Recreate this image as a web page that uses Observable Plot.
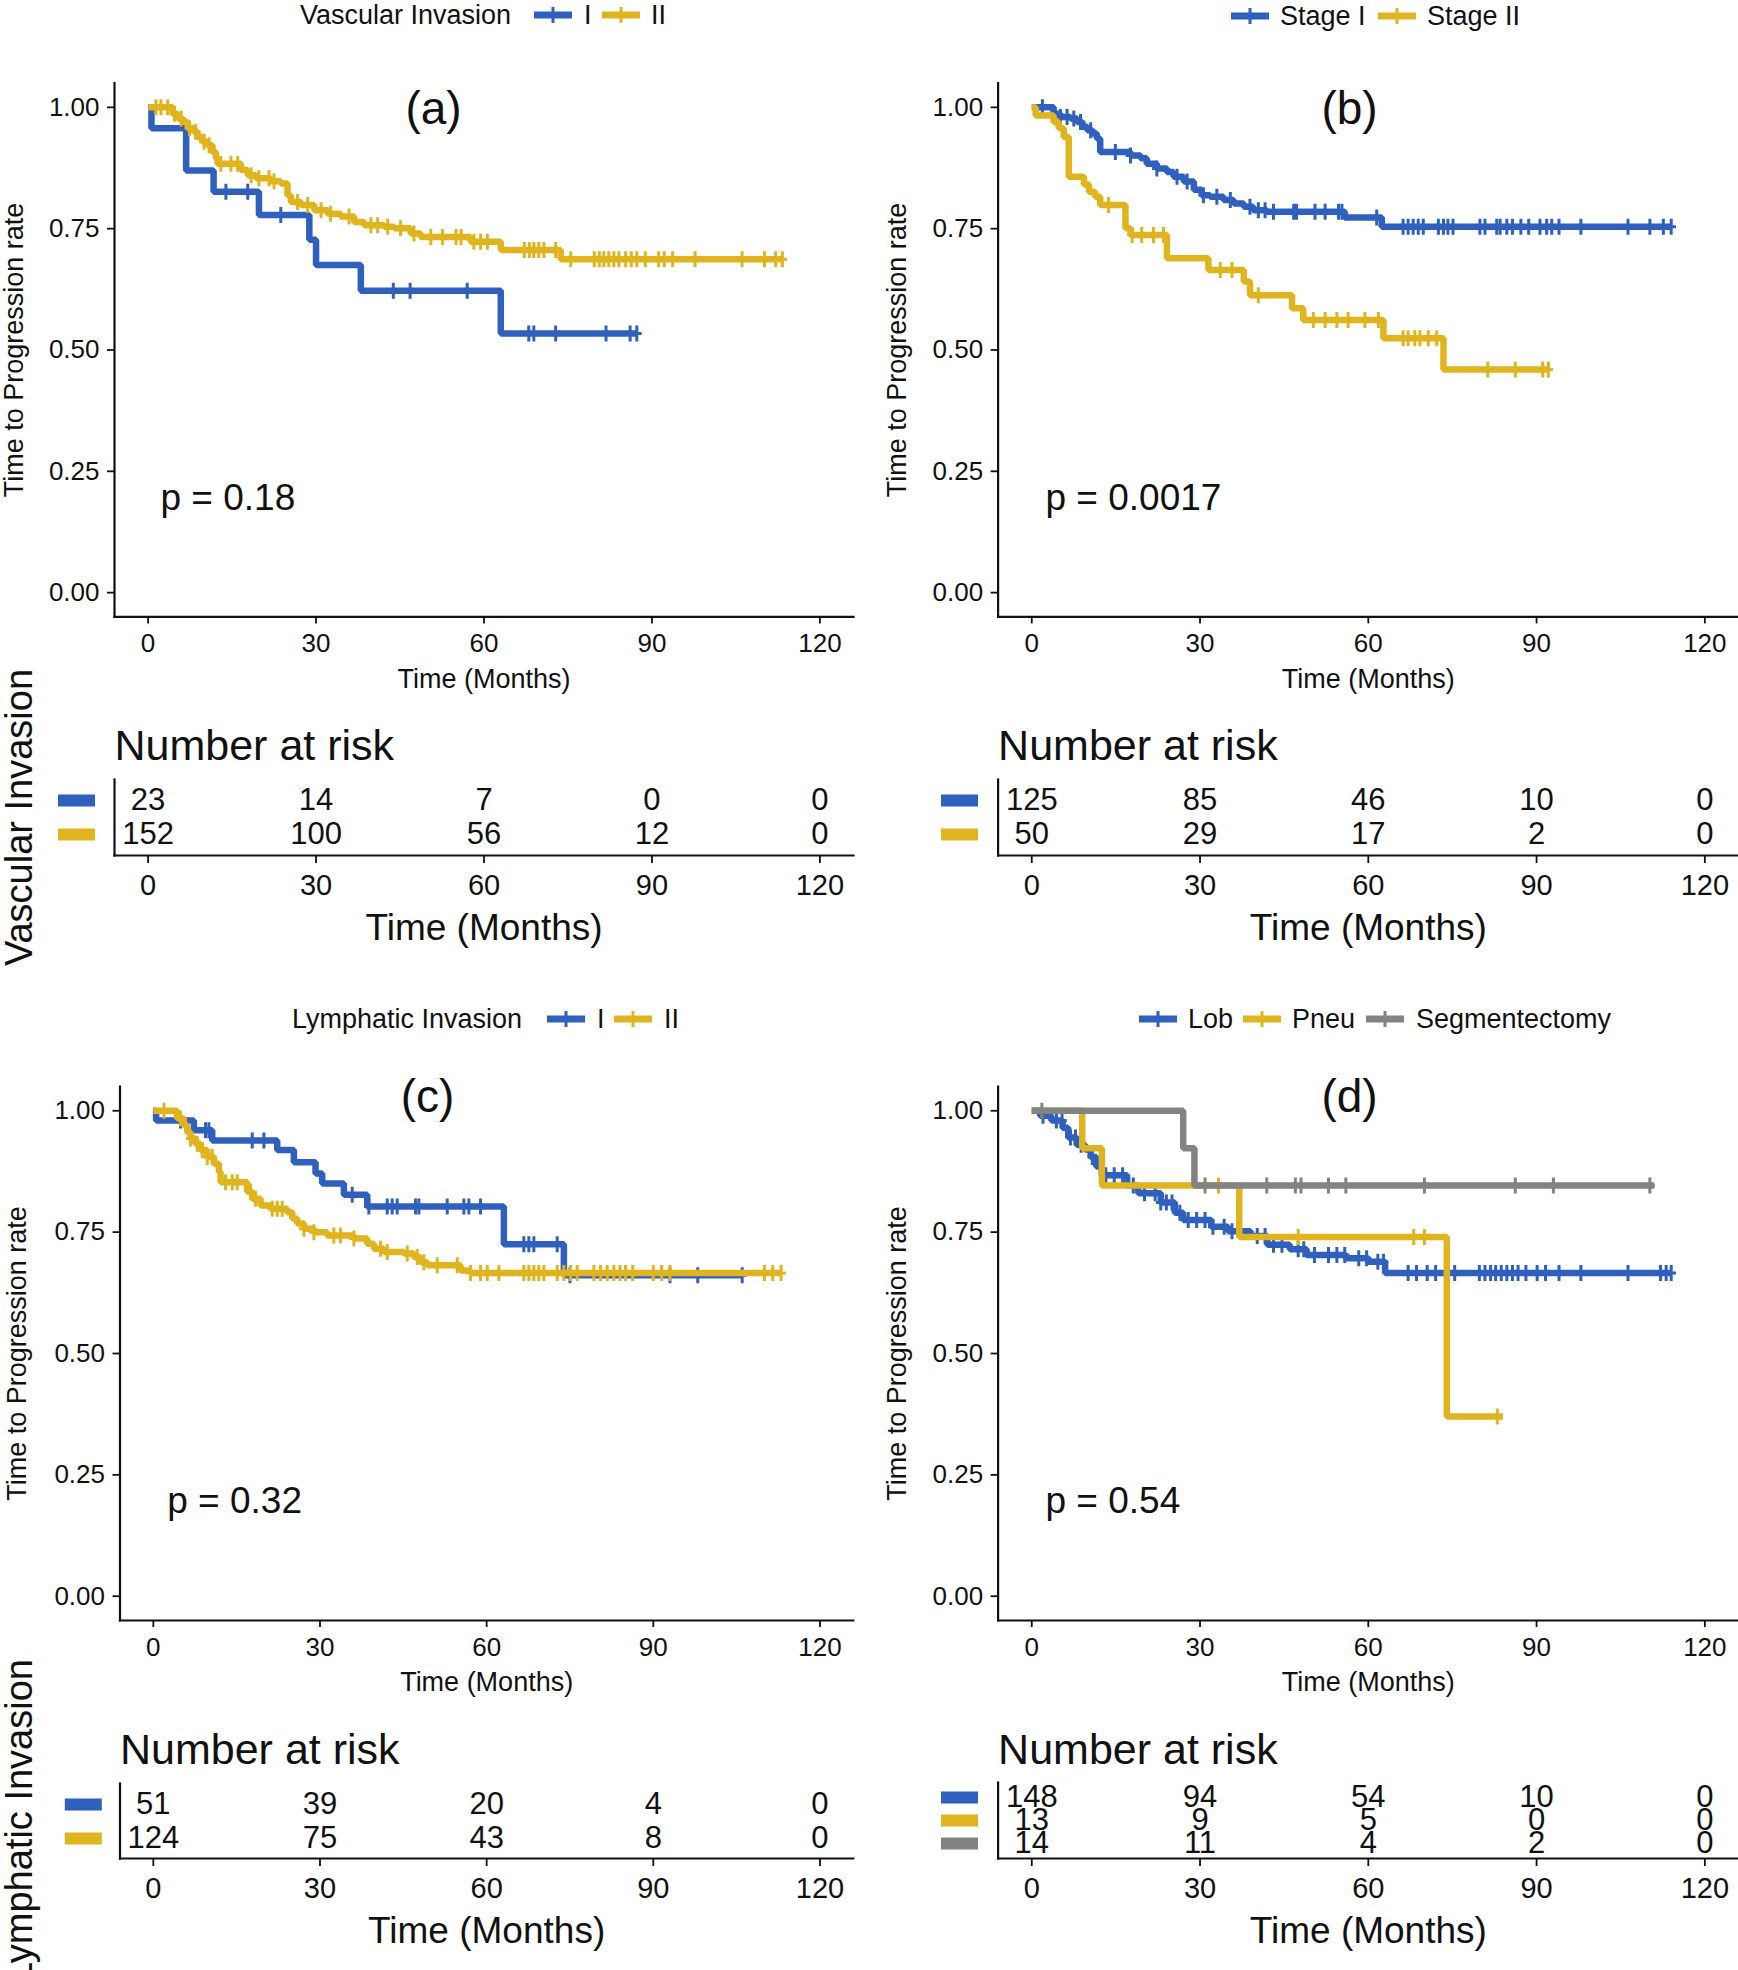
<!DOCTYPE html>
<html>
<head>
<meta charset="utf-8">
<script src="https://cdn.jsdelivr.net/npm/d3@7"></script>
<script src="https://cdn.jsdelivr.net/npm/@observablehq/plot@0.6"></script>
<style>
  html, body { margin: 0; padding: 0; background: #fff; }
  #root { position: relative; width: 1738px; height: 1970px; overflow: hidden; background: #fff;
          font-family: "Liberation Sans", Arial, Helvetica, sans-serif; color: #111; }
  #root svg { position: absolute; max-width: none; }
  .lg { position: absolute; font-size: 27px; line-height: 34px; white-space: nowrap; color: #111; }
</style>
</head>
<body>
<div id="root"></div>
<script>
// ---------------- DATA ----------------
const months = [0, 30, 60, 90, 120];
const survTicks = [0, 0.25, 0.5, 0.75, 1];

// (a) Vascular Invasion
const aTitle = "Vascular Invasion";
const aGroups = ["I", "II"];
const aPval = "p = 0.18";
const aI_time = [0, 0.6, 6.8, 11.7, 19.8, 28.8, 30.0, 38.0, 63.0, 87.3];
const aI_surv = [1, 0.957, 0.870, 0.826, 0.778, 0.727, 0.675, 0.622, 0.534, 0.534];
const aI_cens = [13.9, 17.8, 23.7, 43.8, 46.8, 57.0, 68.0, 68.9, 72.8, 81.8, 86.1, 87.3];
const aII_time = [0, 4.4, 5.3, 6.2, 7.1, 8.2, 8.8, 9.7, 10.6, 11.5, 12.1, 12.4, 16.6, 17.8, 19.3, 21.9, 23.7, 24.9, 25.5, 27.3, 29.7, 32.1, 34.4, 36.8, 38.6, 42.2, 44.0, 46.9, 48.7, 57.6, 63.0, 73.7, 113.3];
const aII_surv = [1, 0.987, 0.977, 0.970, 0.957, 0.950, 0.939, 0.929, 0.922, 0.908, 0.895, 0.884, 0.871, 0.860, 0.854, 0.848, 0.843, 0.819, 0.805, 0.799, 0.788, 0.781, 0.775, 0.764, 0.757, 0.754, 0.751, 0.740, 0.733, 0.723, 0.706, 0.687, 0.687];
const aII_cens = [1.4, 2.3, 3.5, 4.7, 5.9, 7.4, 8.5, 10.0, 10.9, 13.0, 14.8, 16.0, 18.4, 19.8, 21.6, 22.5, 26.7, 28.5, 30.9, 32.6, 35.9, 39.8, 41.0, 42.8, 45.1, 47.5, 50.5, 52.6, 55.0, 55.9, 58.2, 59.4, 60.6, 67.2, 68.1, 68.9, 69.8, 70.7, 72.8, 75.5, 79.7, 80.6, 81.4, 82.3, 83.2, 84.1, 85.3, 86.3, 87.3, 88.8, 91.2, 92.2, 93.7, 97.7, 106.1, 110.1, 112.1, 113.3];
const aRiskI = [23, 14, 7, 0, 0];
const aRiskII = [152, 100, 56, 12, 0];

// (b) Stage
const bGroups = ["Stage I", "Stage II"];
const bPval = "p = 0.0017";
const bI_time = [0, 3.9, 5.1, 6.9, 8.1, 9.0, 9.9, 10.8, 11.6, 12.2, 17.6, 19.4, 20.5, 22.3, 24.1, 25.3, 27.1, 28.9, 30.3, 31.8, 34.2, 36.0, 37.8, 39.5, 41.9, 55.8, 62.4, 114.0];
const bI_surv = [1, 0.987, 0.980, 0.977, 0.970, 0.960, 0.953, 0.946, 0.936, 0.908, 0.901, 0.895, 0.884, 0.874, 0.867, 0.857, 0.847, 0.830, 0.819, 0.816, 0.809, 0.802, 0.795, 0.788, 0.785, 0.773, 0.754, 0.754];
const bI_cens = [1.9, 5.1, 6.3, 7.5, 8.7, 10.5, 14.9, 17.6, 22.3, 25.9, 27.7, 30.6, 33.0, 35.4, 38.9, 40.4, 41.6, 43.1, 46.7, 47.2, 50.5, 52.3, 54.7, 55.3, 61.5, 66.2, 67.1, 68.0, 68.9, 69.8, 72.5, 73.4, 74.2, 75.1, 79.9, 80.8, 82.9, 83.5, 84.7, 85.7, 87.2, 88.6, 90.6, 91.8, 92.7, 94.0, 97.9, 106.3, 110.2, 112.6, 114.0];
const bII_time = [0, 0.7, 3.9, 4.8, 5.7, 6.6, 9.3, 10.2, 11.3, 12.2, 16.7, 17.6, 24.1, 31.5, 37.8, 38.9, 46.4, 48.4, 62.7, 73.4, 92.1];
const bII_surv = [1, 0.983, 0.970, 0.957, 0.939, 0.857, 0.841, 0.826, 0.816, 0.799, 0.751, 0.737, 0.689, 0.665, 0.641, 0.613, 0.586, 0.562, 0.524, 0.460, 0.460];
const bII_cens = [13.7, 17.9, 19.6, 21.7, 23.5, 33.6, 35.7, 40.4, 50.2, 52.3, 54.4, 56.4, 59.4, 61.8, 66.2, 67.1, 68.3, 69.2, 70.7, 72.2, 81.3, 86.2, 91.1, 92.1];
const bRiskI = [125, 85, 46, 10, 0];
const bRiskII = [50, 29, 17, 2, 0];

// (c) Lymphatic Invasion
const cTitle = "Lymphatic Invasion";
const cGroups = ["I", "II"];
const cPval = "p = 0.32";
const cI_time = [0, 0.5, 7.3, 10.6, 22.3, 25.3, 29.2, 30.4, 34.3, 38.5, 63.1, 73.9, 106.0];
const cI_surv = [1, 0.980, 0.960, 0.939, 0.919, 0.894, 0.871, 0.850, 0.827, 0.803, 0.725, 0.661, 0.661];
const cI_cens = [4.9, 9.4, 10.0, 17.8, 19.9, 35.8, 38.8, 42.1, 43.0, 43.9, 47.2, 47.8, 52.9, 55.9, 56.8, 58.9, 66.7, 67.6, 68.5, 72.7, 75.0, 93.0, 98.0, 106.0];
const cII_time = [0, 4.3, 5.5, 6.1, 6.7, 7.6, 8.5, 9.7, 10.9, 11.8, 12.1, 16.9, 17.8, 19.3, 21.1, 24.1, 25.0, 25.9, 27.1, 28.9, 31.3, 36.1, 38.5, 39.7, 41.5, 45.1, 46.9, 48.1, 49.3, 55.3, 57.1, 113.0];
const cII_surv = [1, 0.984, 0.970, 0.956, 0.943, 0.932, 0.919, 0.905, 0.891, 0.874, 0.853, 0.833, 0.819, 0.805, 0.798, 0.791, 0.778, 0.768, 0.757, 0.750, 0.743, 0.737, 0.726, 0.716, 0.709, 0.706, 0.699, 0.688, 0.682, 0.671, 0.666, 0.666];
const cII_cens = [1.9, 4.9, 6.7, 7.9, 8.8, 9.7, 10.6, 13.0, 14.2, 15.1, 17.5, 18.4, 21.4, 22.3, 23.2, 27.1, 28.9, 32.5, 33.7, 36.1, 40.9, 42.1, 45.7, 47.5, 48.7, 51.1, 54.7, 57.1, 58.9, 60.1, 62.2, 66.7, 67.6, 68.5, 69.4, 70.3, 72.7, 73.9, 75.1, 76.3, 79.3, 80.5, 81.7, 82.9, 84.0, 85.0, 86.3, 90.0, 91.5, 93.0, 110.0, 111.5, 113.0];
const cRiskI = [51, 39, 20, 4, 0];
const cRiskII = [124, 75, 43, 8, 0];

// (d) Surgery type
const dGroups = ["Lob", "Pneu", "Segmentectomy"];
const dPval = "p = 0.54";
const dLob_time = [0, 1.5, 3.5, 5.5, 6.5, 8.0, 9.5, 10.5, 11.5, 12.5, 17.0, 19.0, 23.0, 25.5, 27.0, 32.0, 35.0, 39.0, 42.0, 46.0, 49.0, 56.0, 60.0, 63.0, 114.0];
const dLob_surv = [1, 0.990, 0.980, 0.965, 0.945, 0.930, 0.920, 0.905, 0.885, 0.867, 0.846, 0.830, 0.811, 0.790, 0.775, 0.761, 0.752, 0.742, 0.724, 0.715, 0.703, 0.696, 0.689, 0.666, 0.666];
const dLob_cens = [2.0, 4.4, 5.4, 6.9, 7.8, 8.8, 10.8, 13.2, 14.7, 16.2, 18.1, 20.1, 22.0, 23.0, 24.0, 25.0, 26.4, 27.9, 29.4, 30.9, 32.3, 34.3, 35.7, 37.2, 40.2, 41.6, 43.1, 44.6, 47.5, 48.5, 50.4, 52.9, 54.4, 55.8, 58.3, 59.7, 61.7, 62.7, 67.1, 68.6, 70.5, 72.0, 73.9, 75.4, 79.8, 80.8, 81.8, 82.7, 83.7, 84.7, 85.7, 86.7, 88.1, 90.1, 91.6, 94.0, 97.9, 106.3, 112.1, 113.1, 114.0];
const dPneu_time = [0, 9.0, 12.5, 37.0, 74.0, 84.0];
const dPneu_surv = [1, 0.923, 0.846, 0.740, 0.370, 0.370];
const dPneu_cens = [33.3, 47.5, 68.1, 70.0, 83.0];
const dSeg_time = [0, 27.0, 29.0, 111.0];
const dSeg_surv = [1, 0.923, 0.846, 0.846];
const dSeg_cens = [1.8, 30.9, 41.9, 47.0, 48.0, 52.9, 56.0, 70.0, 86.2, 93.0, 110.2];
const dRiskLob = [148, 94, 54, 10, 0];
const dRiskPneu = [13, 9, 5, 0, 0];
const dRiskSeg = [14, 11, 4, 2, 0];

// ---------------- STYLE ----------------
const BLUE = "#3060BD", YELLOW = "#E0B41E", GRAY = "#838383";
const FONT = '"Liberation Sans", Arial, Helvetica, sans-serif';
const root = document.getElementById("root");

// ---------------- HELPERS ----------------
function stepAt(time, surv, t) {
  let v = surv[0];
  for (let i = 0; i < time.length; i++) { if (time[i] <= t) v = surv[i]; else break; }
  return v;
}
function makeSeries(time, surv, cens, color) {
  return {
    color,
    steps: time.map((t, i) => ({t, s: surv[i]})),
    cens: cens.map(t => ({t, s: stepAt(time, surv, t)}))
  };
}
const plusSymbol = {
  draw(ctx, size) {
    const r = Math.sqrt(size / Math.PI);
    ctx.moveTo(0, -r); ctx.lineTo(0, r);
    ctx.moveTo(-r * 0.6, 0); ctx.lineTo(r * 0.6, 0);
  }
};
const keySymbol = { draw(ctx) { ctx.rect(-18.5, -6, 37, 12); } };

function place(svg, box) {
  svg.style.left = box.l + "px";
  svg.style.top = box.t + "px";
  root.appendChild(svg);
}
function margins(box, fr) {
  return {
    marginLeft: fr.l - box.l, marginRight: box.l + box.w - fr.r,
    marginTop: fr.t - box.t, marginBottom: box.t + box.h - fr.b
  };
}
const svgStyle = {background: "transparent", overflow: "visible", fontFamily: FONT, color: "#111"};

function kmPlot(o) {
  const marks = [
    Plot.frame({anchor: "left", strokeWidth: 2.2}),
    Plot.frame({anchor: "bottom", strokeWidth: 2.2}),
    Plot.axisY({ticks: survTicks, tickFormat: d3.format(".2f"), tickSize: 7, tickPadding: 8, fontSize: 26, label: null, strokeWidth: 1.8}),
    Plot.axisX({ticks: months, tickSize: 7, tickPadding: 10, fontSize: 26, label: null, strokeWidth: 1.8}),
    Plot.text(["Time to Progression rate"], {frameAnchor: "left", dx: o.yTitleDx, rotate: -90, textAnchor: "middle", lineAnchor: "middle", fontSize: 27}),
    Plot.text(["Time (Months)"], {frameAnchor: "bottom", dy: 62, lineAnchor: "middle", fontSize: 27}),
    Plot.text([o.tag], {frameAnchor: "top-left", dx: o.tagDx, dy: o.tagDy, textAnchor: "middle", lineAnchor: "middle", fontSize: 46}),
    Plot.text([o.p], {frameAnchor: "bottom-left", dx: o.pDx, dy: o.pDy, textAnchor: "start", lineAnchor: "middle", fontSize: 37})
  ];
  for (const s of o.series) {
    marks.push(Plot.line(s.steps, {x: "t", y: "s", curve: "step-after", stroke: s.color, strokeWidth: 6.5, strokeLinejoin: "miter", strokeLinecap: "butt"}));
    marks.push(Plot.dot(s.cens, {x: "t", y: "s", symbol: plusSymbol, r: 8, stroke: s.color, strokeWidth: 3, fill: "none"}));
  }
  const svg = Plot.plot({
    width: o.box.w, height: o.box.h, ...margins(o.box, o.frame),
    x: {domain: [-6, 126]}, y: {domain: [-0.05, 1.05]},
    style: svgStyle, marks
  });
  place(svg, o.box);
}

function riskPlot(o) {
  const rows = o.groups.flatMap((g, gi) => months.map((m, i) => ({g, m, n: o.counts[gi][i]})));
  const marks = [
    Plot.frame({anchor: "left", strokeWidth: 2.2}),
    Plot.frame({anchor: "bottom", strokeWidth: 2.2}),
    Plot.axisX({ticks: months, tickSize: 8, tickPadding: 11, fontSize: 29, label: null, strokeWidth: 1.8}),
    Plot.text(rows, {x: "m", y: "g", text: d => String(d.n), fontSize: 31}),
    Plot.text(["Number at risk"], {frameAnchor: "top-left", dy: o.titleDy, textAnchor: "start", lineAnchor: "middle", fontSize: 43}),
    Plot.text(["Time (Months)"], {frameAnchor: "bottom", dy: 73, lineAnchor: "middle", fontSize: 37}),
    ...o.groups.map((g, i) => Plot.dot([g], {y: d => d, frameAnchor: "left", dx: o.keyDx, symbol: keySymbol, fill: o.colors[i], stroke: "none"}))
  ];
  if (o.side) marks.push(Plot.text([o.side], {frameAnchor: "left", dx: o.sideDx, rotate: -90, textAnchor: "middle", lineAnchor: "middle", fontSize: 38}));
  const svg = Plot.plot({
    width: o.box.w, height: o.box.h, ...margins(o.box, o.frame),
    x: {domain: [-6, 126]},
    y: {type: "point", domain: o.groups, padding: 0.6, axis: null},
    style: svgStyle, marks
  });
  place(svg, o.box);
}

function legendKey(x, cy, color) {
  const ns = "http://www.w3.org/2000/svg";
  const s = document.createElementNS(ns, "svg");
  s.setAttribute("width", 38); s.setAttribute("height", 22);
  s.style.left = x + "px"; s.style.top = (cy - 11) + "px";
  const l1 = document.createElementNS(ns, "line");
  l1.setAttribute("x1", 0); l1.setAttribute("x2", 38); l1.setAttribute("y1", 11); l1.setAttribute("y2", 11);
  l1.setAttribute("stroke", color); l1.setAttribute("stroke-width", 7);
  const l2 = document.createElementNS(ns, "line");
  l2.setAttribute("x1", 19); l2.setAttribute("x2", 19); l2.setAttribute("y1", 3); l2.setAttribute("y2", 19);
  l2.setAttribute("stroke", color); l2.setAttribute("stroke-width", 3);
  s.append(l1, l2);
  root.appendChild(s);
}
function legendText(x, cy, text) {
  const d = document.createElement("div");
  d.className = "lg"; d.style.left = x + "px"; d.style.top = (cy - 17) + "px";
  d.textContent = text;
  root.appendChild(d);
}

// ---------------- PANELS ----------------
// (a)
legendText(300, 15, aTitle);
legendKey(534, 15, BLUE); legendText(584, 15, aGroups[0]);
legendKey(602, 15, YELLOW); legendText(651, 15, aGroups[1]);
kmPlot({
  box: {l: 0, t: 40, w: 869, h: 670}, frame: {l: 114, r: 853, t: 82.6, b: 616.4},
  series: [makeSeries(aI_time, aI_surv, aI_cens, BLUE), makeSeries(aII_time, aII_surv, aII_cens, YELLOW)],
  tag: "(a)", tagDx: 319, tagDy: 26.4, p: aPval, pDx: 46, pDy: -118.4, yTitleDx: -100
});
riskPlot({
  box: {l: 0, t: 700, w: 869, h: 270}, frame: {l: 114, r: 853, t: 779, b: 855},
  groups: aGroups, counts: [aRiskI, aRiskII], colors: [BLUE, YELLOW],
  titleDy: -33, keyDx: -38, side: aTitle, sideDx: -95
});

// (b)
legendKey(1231, 15.6, BLUE); legendText(1280, 15.6, bGroups[0]);
legendKey(1378, 15.6, YELLOW); legendText(1427, 15.6, bGroups[1]);
kmPlot({
  box: {l: 869, t: 40, w: 869, h: 670}, frame: {l: 997.6, r: 1738, t: 82.6, b: 616.4},
  series: [makeSeries(bI_time, bI_surv, bI_cens, BLUE), makeSeries(bII_time, bII_surv, bII_cens, YELLOW)],
  tag: "(b)", tagDx: 351.4, tagDy: 26.4, p: bPval, pDx: 47.4, pDy: -118.4, yTitleDx: -101
});
riskPlot({
  box: {l: 869, t: 700, w: 869, h: 270}, frame: {l: 997.6, r: 1738, t: 779, b: 855},
  groups: bGroups, counts: [bRiskI, bRiskII], colors: [BLUE, YELLOW],
  titleDy: -33, keyDx: -38.6
});

// (c)
legendText(292, 1019, cTitle);
legendKey(547, 1019, BLUE); legendText(597, 1019, cGroups[0]);
legendKey(614, 1019, YELLOW); legendText(664, 1019, cGroups[1]);
kmPlot({
  box: {l: 0, t: 1040, w: 869, h: 670}, frame: {l: 119.5, r: 852.8, t: 1086, b: 1620},
  series: [makeSeries(cI_time, cI_surv, cI_cens, BLUE), makeSeries(cII_time, cII_surv, cII_cens, YELLOW)],
  tag: "(c)", tagDx: 307.5, tagDy: 11, p: cPval, pDx: 47.2, pDy: -119, yTitleDx: -102.8
});
riskPlot({
  box: {l: 0, t: 1700, w: 869, h: 270}, frame: {l: 119.5, r: 852.8, t: 1783, b: 1858},
  groups: cGroups, counts: [cRiskI, cRiskII], colors: [BLUE, YELLOW],
  titleDy: -33, keyDx: -36.7, side: cTitle, sideDx: -100.5
});

// (d)
legendKey(1139, 1019, BLUE); legendText(1188, 1019, dGroups[0]);
legendKey(1243, 1019, YELLOW); legendText(1292, 1019, dGroups[1]);
legendKey(1366, 1019, GRAY); legendText(1416, 1019, dGroups[2]);
kmPlot({
  box: {l: 869, t: 1040, w: 869, h: 670}, frame: {l: 997.6, r: 1738, t: 1086, b: 1620},
  series: [makeSeries(dLob_time, dLob_surv, dLob_cens, BLUE), makeSeries(dPneu_time, dPneu_surv, dPneu_cens, YELLOW), makeSeries(dSeg_time, dSeg_surv, dSeg_cens, GRAY)],
  tag: "(d)", tagDx: 351.4, tagDy: 11, p: dPval, pDx: 47.4, pDy: -119, yTitleDx: -101
});
riskPlot({
  box: {l: 869, t: 1700, w: 869, h: 270}, frame: {l: 997.6, r: 1738, t: 1782, b: 1858},
  groups: dGroups, counts: [dRiskLob, dRiskPneu, dRiskSeg], colors: [BLUE, YELLOW, GRAY],
  titleDy: -32, keyDx: -38.6
});
</script>
</body>
</html>
